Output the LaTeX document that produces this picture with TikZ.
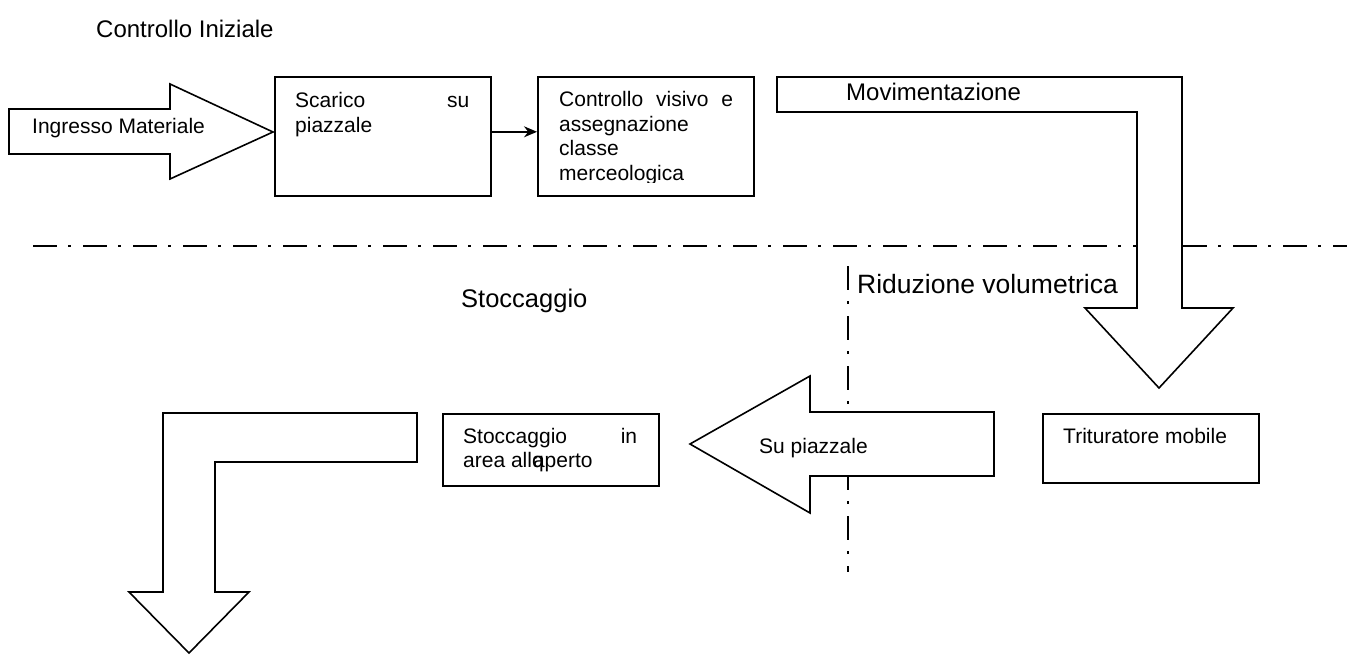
\documentclass[tikz,border=0pt]{standalone}
\usepackage{fontspec}
\setmainfont{Liberation Sans}
\usetikzlibrary{arrows.meta,calc}
\begin{document}
\begin{tikzpicture}[x=1pt,y=-1pt,
  blk/.style={draw=black, line width=1.6pt, fill=white, line join=miter},
  boxnode/.style={draw=black, line width=1.6pt, fill=white, rectangle,
    inner sep=0pt, anchor=north west},
  lbl/.style={anchor=base west, inner sep=0pt, font=\fontsize{21}{24.5}\selectfont},
  head/.style={anchor=base west, inner sep=0pt, font=\fontsize{24}{28}\selectfont},
  divider/.style={line width=2.2pt, dash pattern=on 24pt off 11pt on 3pt off 12pt},
  link/.style={line width=1.6pt, -{Stealth[length=13pt,width=11pt]}},
]
\useasboundingbox (0,0) rectangle (1351,655);

% section dividers (dash-dot)
\draw[divider] (33,246) -- (1347,246);
\draw[divider] (848,266) -- (848,572);

% block arrows
\draw[blk] (9,109) -- (170,109) -- (170,84) -- (273,132) -- (170,179)
  -- (170,154) -- (9,154) -- cycle;
\draw[blk] (777,77) -- (1182,77) -- (1182,308) -- (1233,308) -- (1159,388)
  -- (1085,308) -- (1137,308) -- (1137,112) -- (777,112) -- cycle;
\draw[blk] (994,412) -- (810,412) -- (810,376) -- (690,444) -- (810,513)
  -- (810,476) -- (994,476) -- cycle;
\draw[blk] (417,413) -- (163,413) -- (163,592) -- (129,592) -- (189,653)
  -- (249,592) -- (215,592) -- (215,462) -- (417,462) -- cycle;

% process boxes
\node[boxnode, minimum width=216pt, minimum height=119pt] (sc) at (274,76) {};
\node[boxnode, minimum width=216pt, minimum height=119pt] (cv) at (537,76) {};
\node[boxnode, minimum width=216pt, minimum height=72pt] (st) at (442,413) {};
\node[boxnode, minimum width=216pt, minimum height=69pt] (tr) at (1042,413) {};

\draw[link] ([yshift=4.5pt]sc.east) -- ([yshift=4.5pt]cv.west);

% box texts
\node[lbl] (sctext) at ($(sc.north west)+(21,32)$)
  {\parbox[t]{174pt}{Scarico\hfill su\\piazzale}};
\begin{scope}
  \clip (537,60) rectangle (753,182.5);
  \node[lbl] (cvtext) at ($(cv.north west)+(22,31)$)
    {\parbox[t]{174pt}{Controllo\hfill visivo\hfill e\\assegnazione\\classe\\merceologica}};
\end{scope}
\node[lbl] (sttext) at ($(st.north west)+(21,30)$)
  {\parbox[t]{174pt}{Stoccaggio\hfill in\\area all\rlap{q}\kern1pt aperto}};
\node[lbl] (trtext) at ($(tr.north west)+(21,30)$) {Trituratore mobile};

% arrow labels
\node[lbl] (ing) at (32,134) {Ingresso Materiale};
\node[lbl] (sup) at (759,453) {Su piazzale};
\node[head] (mov) at (846,101) {Movimentazione};

% section titles
\node[head] (ci) at (96,38) {Controllo Iniziale};
\node[head, font=\fontsize{25.5}{30}\selectfont] (stoc) at (461,307) {Stoccaggio};
\node[head, font=\fontsize{26.5}{30}\selectfont] (rid) at (857,293) {Riduzione volumetrica};
\end{tikzpicture}
\end{document}
